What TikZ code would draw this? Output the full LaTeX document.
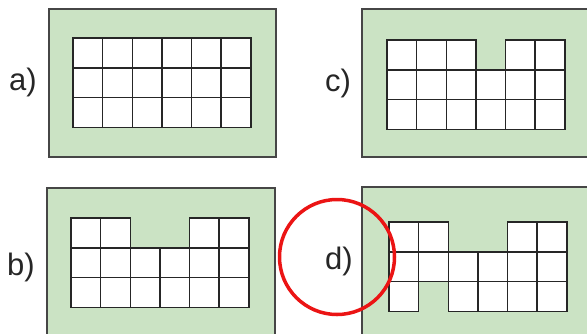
\documentclass[tikz,border=0pt]{standalone}
\usepackage{fontspec}
\setmainfont{Liberation Sans}
\usepackage{xcolor}
\usepackage{tikz}
\usetikzlibrary{positioning}

\definecolor{boardgreen}{RGB}{203,227,196}
\definecolor{boardedge}{RGB}{70,70,70}
\definecolor{markred}{RGB}{235,20,20}

\tikzset{
    board/.style={fill=boardgreen, draw=boardedge, line width=1.3pt},
    cellbox/.style={draw=black!85, line width=1.6pt},
    lbl/.style={font=\fontsize{31}{36}\selectfont, text=black!85, inner sep=0pt}
}

% white cells first, then their outlines
\newcommand{\cellgrid}[1]{%
    \foreach \c/\r in {#1}
        \fill[white] (\c*29.65,\r*29.8) rectangle ++(29.65,29.8);
    \foreach \c/\r in {#1}
        \draw[cellbox] (\c*29.65,\r*29.8) rectangle ++(29.65,29.8);
}

\begin{document}
\begin{tikzpicture}[x=1pt, y=-1pt]
    \useasboundingbox (0,0) rectangle (587,333);
    \clip (0,0) rectangle (587,333);

    % boards
    \draw[board] (49,9) rectangle (276,157);
    \draw[board] (362,9) rectangle (600,157);
    \draw[board] (47,188) rectangle (275,345);
    \draw[board] (362,187) rectangle (600,345);

    % a) full grid
    \begin{scope}[shift={(73,38)}]
        \cellgrid{0/0,1/0,2/0,3/0,4/0,5/0,0/1,1/1,2/1,3/1,4/1,5/1,0/2,1/2,2/2,3/2,4/2,5/2}
    \end{scope}

    % b)
    \begin{scope}[shift={(71,218)}]
        \cellgrid{0/0,1/0,4/0,5/0,0/1,1/1,2/1,3/1,4/1,5/1,0/2,1/2,2/2,3/2,4/2,5/2}
    \end{scope}

    % c)
    \begin{scope}[shift={(387,40)}]
        \cellgrid{0/0,1/0,2/0,4/0,5/0,0/1,1/1,2/1,3/1,4/1,5/1,0/2,1/2,2/2,3/2,4/2,5/2}
    \end{scope}

    % d)
    \begin{scope}[shift={(389,222)}]
        \cellgrid{0/0,1/0,4/0,5/0,0/1,1/1,2/1,3/1,4/1,5/1,0/2,2/2,3/2,4/2,5/2}
    \end{scope}

    % labels
    \node[lbl] (la) at (23,82) {a)};
    \node[lbl] (lb) at (21,267) {b)};
    \node[lbl] (lc) at (338,83) {c)};
    \node[lbl] (ld) at (339,261) {d)};

    % marker round d)
    \draw[markred, line width=3.5pt] (ld) ++(-2,-4) circle[radius=57.5pt];
\end{tikzpicture}
\end{document}
